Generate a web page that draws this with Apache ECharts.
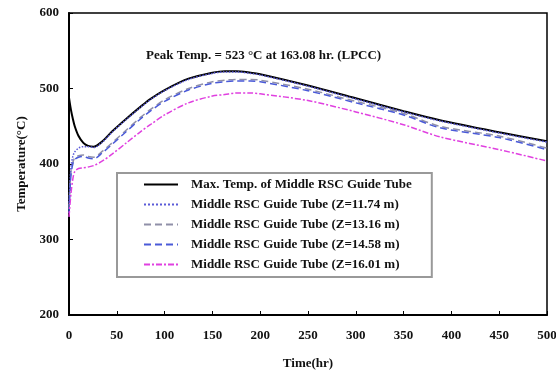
<!DOCTYPE html>
<html lang="en">
<head>
    <meta charset="UTF-8">
    <title>Guide tube temperature</title>
    <script src="https://cdn.jsdelivr.net/npm/echarts@6/dist/echarts.min.js"></script>
    <style>
        body { margin: 0; background: #fff; }
    </style>
</head>
<body>
<div id="box" style="width: 556px;height:372px;"></div>
<script>
    // time (hr) shared by all curves
    var times = [0, 2, 4, 6, 10, 15, 20, 26, 35, 45, 60, 75, 85, 100, 125, 150, 163, 175, 190, 200, 250, 300, 350, 388, 450, 500];
    var maxTemp = [488, 472, 460, 450, 437, 428, 424, 423, 430, 443, 460, 476, 486, 498, 513, 521, 523, 523, 521, 519, 504, 487, 470, 458, 442, 430];
    var z1174 = [345, 395, 410, 416, 421, 423, 423, 422, 429, 442, 459, 475, 485, 497, 512, 520, 522, 522, 520, 518, 503, 486, 469, 457, 441, 429];
    var z1316 = [340, 390, 402, 408, 411, 412, 410, 409, 417, 428, 445, 462, 472, 485, 500, 509, 511, 512, 512, 511, 499, 483, 467, 450, 437, 421];
    var z1458 = [335, 385, 400, 406, 409, 410, 408, 407, 415, 426, 443, 460, 470, 483, 498, 507, 509, 510, 510, 509, 497, 481, 465, 448, 435, 419];
    var z1601 = [330, 360, 380, 390, 394, 395, 396, 398, 404, 413, 428, 443, 452, 465, 481, 490, 492, 494, 494, 493, 484, 469, 452, 436, 419, 404];

    var names = [
        'Max. Temp. of Middle RSC Guide Tube',
        'Middle RSC Guide Tube (Z=11.74 m)',
        'Middle RSC Guide Tube (Z=13.16 m)',
        'Middle RSC Guide Tube (Z=14.58 m)',
        'Middle RSC Guide Tube (Z=16.01 m)'
    ];

    function pairs(vals) {
        return times.map(function (t, i) { return [t, vals[i]]; });
    }

    var font = 'Liberation Serif';
    var myChart = echarts.init(document.getElementById('box'));

    function line(name, vals, color, type, width, z) {
        return {
            name: name,
            type: 'line',
            data: pairs(vals),
            smooth: 0.3,
            symbol: 'none',
            z: z,
            lineStyle: { color: color, type: type, width: width },
            itemStyle: { color: color }
        };
    }

    var option = {
        animation: false,
        title: {
            text: 'Peak Temp. = 523 \u00B0C at 163.08 hr. (LPCC)',
            left: 141,
            top: 44,
            textStyle: { fontFamily: font, fontSize: 13, fontWeight: 'bold', color: '#111' }
        },
        legend: {
            orient: 'vertical',
            left: 117,
            top: 173,
            padding: [5, 20, 6, 26],
            itemWidth: 34,
            itemHeight: 12,
            itemGap: 7,
            borderColor: '#999',
            borderWidth: 2,
            backgroundColor: '#fff',
            itemStyle: { opacity: 0 },
            data: names,
            textStyle: { fontFamily: font, fontSize: 13, fontWeight: 'bold', color: '#111', padding: [0, 0, 0, 8] }
        },
        grid: {
            left: 69,
            right: 9,
            top: 13,
            bottom: 57,
            outerBoundsMode: 'none',
            show: true,
            borderColor: '#000',
            borderWidth: 1.5
        },
        xAxis: {
            type: 'value',
            min: 0,
            max: 500,
            interval: 50,
            name: 'Time(hr)',
            nameLocation: 'middle',
            nameGap: 42,
            nameTextStyle: { fontFamily: font, fontSize: 13, fontWeight: 'bold', color: '#111' },
            axisLine: { lineStyle: { color: '#000', width: 2 } },
            axisTick: { inside: true, length: 4, lineStyle: { color: '#000' } },
            splitLine: { show: false },
            axisLabel: { fontFamily: font, fontSize: 13, fontWeight: 'bold', color: '#111', margin: 14 }
        },
        yAxis: {
            type: 'value',
            min: 200,
            max: 600,
            interval: 100,
            name: 'Temperature(\u00B0C)',
            nameLocation: 'middle',
            nameGap: 41,
            nameRotate: 90,
            nameTextStyle: { fontFamily: font, fontSize: 13, fontWeight: 'bold', color: '#111' },
            axisLine: { show: true, lineStyle: { color: '#000', width: 2 } },
            axisTick: { show: true, inside: true, length: 4, lineStyle: { color: '#000' } },
            splitLine: { show: false },
            axisLabel: { fontFamily: font, fontSize: 13, fontWeight: 'bold', color: '#111', margin: 10 }
        },
        series: [
            line(names[0], maxTemp, '#000000', 'solid', 2, 3),
            line(names[1], z1174, '#5a5ad8', 'dotted', 1.5, 4),
            line(names[2], z1316, '#9090a8', [7, 4], 1.5, 2),
            line(names[3], z1458, '#4a5ad8', [7, 4], 1.5, 2),
            line(names[4], z1601, '#e040e0', [6, 2, 2, 2], 1.5, 2)
        ]
    };
    myChart.setOption(option);
</script>
</body>
</html>
